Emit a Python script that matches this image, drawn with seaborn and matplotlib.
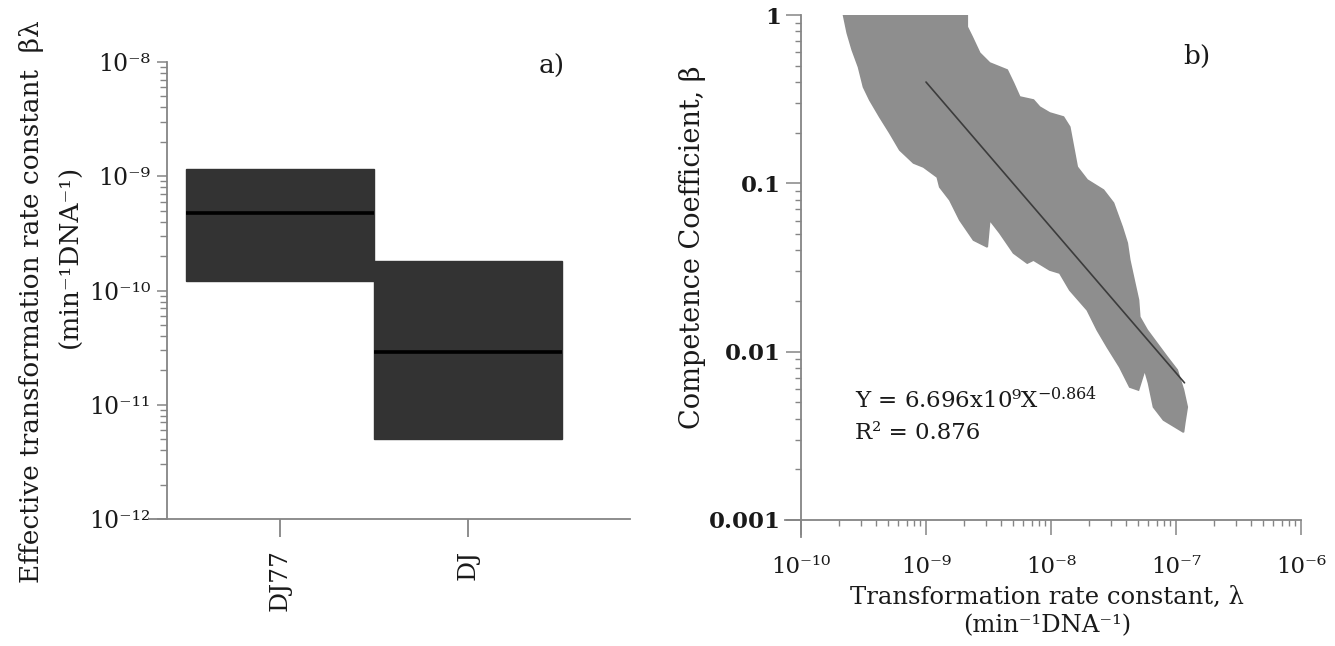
import numpy as np
import pandas as pd
import matplotlib
matplotlib.use("Agg")
import matplotlib.pyplot as plt
import seaborn as sns
from matplotlib.ticker import FixedLocator, NullFormatter, FuncFormatter

# ---- panel a: effective transformation rate constant per strain ----
strains = ["DJ77", "DJ"]
rate_low = [1.2e-10, 5.0e-12]
rate_median = [4.8e-10, 2.9e-11]
rate_high = [1.15e-9, 1.8e-10]

# ---- panel b: outline of the (lambda, beta) parameter cloud, log10 units ----
cloud_log_lambda = [
    -9.66, -8.67, -8.67, -8.63, -8.57, -8.49, -8.35, -8.30, -8.25, -8.14, -8.09,
    -8.01, -7.90, -7.85, -7.82, -7.79, -7.71, -7.58, -7.50, -7.43, -7.39, -7.37,
    -7.33, -7.30, -7.29, -7.23, -7.07, -6.99, -6.94, -6.91, -6.93, -6.94,
    -7.10, -7.18, -7.22, -7.25, -7.30, -7.37, -7.45, -7.55, -7.63, -7.71, -7.85,
    -7.93, -8.01, -8.14, -8.19, -8.30, -8.41, -8.49, -8.51, -8.62, -8.73, -8.81,
    -8.89, -8.91, -9.02, -9.10, -9.21, -9.29, -9.37, -9.45, -9.50, -9.54, -9.59,
    -9.63, -9.66,
]
cloud_log_beta = [
    0.0, 0.0, -0.071, -0.131, -0.226, -0.285, -0.327, -0.404, -0.487, -0.505, -0.547,
    -0.582, -0.606, -0.665, -0.784, -0.903, -0.980, -1.040, -1.117, -1.260, -1.355, -1.456,
    -1.592, -1.693, -1.794, -1.872, -2.032, -2.109, -2.228, -2.329, -2.424, -2.478,
    -2.406, -2.329, -2.187, -2.109, -2.228, -2.210, -2.092, -1.973, -1.872, -1.753, -1.634,
    -1.533, -1.515, -1.456, -1.474, -1.414, -1.295, -1.218, -1.378, -1.337, -1.218, -1.099,
    -1.022, -0.963, -0.903, -0.879, -0.802, -0.701, -0.606, -0.505, -0.428, -0.309, -0.208,
    -0.107, 0.0,
]

# power-law fit  Y = a * X^b
fit_coef = 6.696e-9
fit_exp = -0.864
fit_r2 = 0.876
fit_lambda = [1.0e-9, 1.17e-7]

x_ticks_b = [1e-10, 1e-9, 1e-8, 1e-7, 1e-6]
y_ticks_b = [0.001, 0.01, 0.1, 1]
y_ticklabels_b = ["0.001", "0.01", "0.1", "1"]

# ---- style ----
sns.set_style("ticks")
plt.rcParams["font.family"] = ["DejaVu Serif", "DejaVu Sans"]
plt.rcParams["mathtext.fontset"] = "dejavuserif"

W, H = 1335, 646
spine_col = "#858585"
text_col = "#1a1a1a"
box_col = "#333333"
cloud_col = "#8e8e8e"

SUP = str.maketrans("-0123456789", "\u207b\u2070\u00b9\u00b2\u00b3\u2074\u2075\u2076\u2077\u2078\u2079")


def pow10_label(v, pos=None):
    return "10" + str(int(round(np.log10(v)))).translate(SUP)


fig = plt.figure(figsize=(W / 100, H / 100), dpi=100)


def fig_rect(x0, y0, x1, y1):
    return [x0 / W, 1 - y1 / H, (x1 - x0) / W, (y1 - y0) / H]


def minor_decades(lo, hi):
    return [m * 10.0 ** e for e in range(lo, hi) for m in range(2, 10)]


# ================= panel a =================
ax1 = fig.add_axes(fig_rect(149, 62, 630, 519))
rows = []
for s, lo, md, hi in zip(strains, rate_low, rate_median, rate_high):
    for v in (lo, lo, md, hi, hi):
        rows.append((s, v))
df = pd.DataFrame(rows, columns=["strain", "rate"])

sns.boxplot(
    data=df, x="strain", y="rate", order=strains, log_scale=True,
    width=1.0, gap=0, color=box_col, saturation=1, linecolor=box_col,
    linewidth=1, whis=0, showcaps=False, fliersize=0,
    medianprops=dict(color="black", linewidth=2.6),
    whiskerprops=dict(linewidth=0), ax=ax1,
)
ax1.set_xlim(-0.697, 1.862)
ax1.set_ylim(1e-12, 1e-8)
ax1.set_xlabel("")
ax1.set_ylabel("")
for side in ("top", "right"):
    ax1.spines[side].set_visible(False)
ax1.spines["left"].set_position(("data", -0.601))
for side in ("left", "bottom"):
    ax1.spines[side].set_color(spine_col)
    ax1.spines[side].set_linewidth(1.3)

ax1.yaxis.set_major_locator(FixedLocator([1e-12, 1e-11, 1e-10, 1e-9, 1e-8]))
ax1.yaxis.set_minor_locator(FixedLocator(minor_decades(-12, -8)))
ax1.yaxis.set_major_formatter(FuncFormatter(pow10_label))
ax1.yaxis.set_minor_formatter(NullFormatter())
ax1.tick_params(axis="y", which="major", length=7, width=1.1, color=spine_col,
                labelsize=17, labelcolor=text_col, pad=5)
ax1.tick_params(axis="y", which="minor", length=5, width=1.0, color=spine_col)
ax1.tick_params(axis="x", which="major", length=13, width=1.3, color=spine_col,
                labelsize=18, labelcolor=text_col, pad=9, labelrotation=90)

ax1.text(-0.245, 0.475, "Effective transformation rate constant  \u03b2\u03bb",
         transform=ax1.transAxes, rotation=90, ha="center", va="center",
         fontsize=19, color=text_col)
ax1.text(-0.163, 0.575, "(min\u207b\u00b9DNA\u207b\u00b9)",
         transform=ax1.transAxes, rotation=90, ha="center", va="center",
         fontsize=19, color=text_col)
fig.text(552 / W, 1 - 66 / H, "a)", ha="center", va="center", fontsize=19, color=text_col)

# ================= panel b =================
ax2 = fig.add_axes(fig_rect(785, 15, 1301, 537))
ax2.set_xscale("log")
ax2.set_yscale("log")
ax2.fill(10.0 ** np.array(cloud_log_lambda), 10.0 ** np.array(cloud_log_beta),
         facecolor=cloud_col, edgecolor=cloud_col, linewidth=1.2, zorder=2)

fit_y = [fit_coef * x ** fit_exp for x in fit_lambda]
sns.lineplot(x=fit_lambda, y=fit_y, color="#3c3c3c", linewidth=1.2, ax=ax2, zorder=3)

ax2.set_xlim(10 ** -10.128, 1e-6)
ax2.set_ylim(10 ** -3.101, 1)
for side in ("top", "right"):
    ax2.spines[side].set_visible(False)
ax2.spines["left"].set_position(("data", 1e-10))
ax2.spines["bottom"].set_position(("data", 1e-3))
for side in ("left", "bottom"):
    ax2.spines[side].set_color(spine_col)
    ax2.spines[side].set_linewidth(1.3)

ax2.xaxis.set_major_locator(FixedLocator(x_ticks_b))
ax2.xaxis.set_minor_locator(FixedLocator(minor_decades(-10, -6)))
ax2.xaxis.set_major_formatter(FuncFormatter(pow10_label))
ax2.xaxis.set_minor_formatter(NullFormatter())
ax2.yaxis.set_major_locator(FixedLocator(y_ticks_b))
ax2.yaxis.set_minor_locator(FixedLocator(minor_decades(-3, 0)))
ax2.yaxis.set_major_formatter(FuncFormatter(
    lambda v, p: y_ticklabels_b[int(np.argmin([abs(np.log10(t / v)) for t in y_ticks_b]))]))
ax2.yaxis.set_minor_formatter(NullFormatter())
ax2.tick_params(axis="both", which="major", length=11, width=1.1, color=spine_col,
                labelsize=16.5, labelcolor=text_col)
ax2.tick_params(axis="both", which="minor", length=4.5, width=1.0, color=spine_col)
ax2.tick_params(axis="x", which="major", pad=15)
for lab in ax2.get_yticklabels():
    lab.set_fontweight("bold")

ax2.set_ylabel("Competence Coefficient, \u03b2", fontsize=19.5, color=text_col)
ax2.yaxis.label.set_va("center")
ax2.yaxis.set_label_coords((692 - 785) / 516, (537 - 247) / 522)
ax2.set_xlabel("Transformation rate constant, \u03bb\n(min\u207b\u00b9DNA\u207b\u00b9)",
               fontsize=17.5, color=text_col, linespacing=1.3)
ax2.xaxis.label.set_va("center")
ax2.xaxis.set_label_coords((1047 - 785) / 516, (537 - 612) / 522)

ax2.text((855 - 785) / 516, (537 - 400) / 522,
         "Y = 6.696x10\u2079X$^{-0.864}$",
         transform=ax2.transAxes, ha="left", va="center", fontsize=16.5, color=text_col)
ax2.text((855 - 785) / 516, (537 - 433) / 522, f"R\u00b2 = {fit_r2}",
         transform=ax2.transAxes, ha="left", va="center", fontsize=16.5, color=text_col)
fig.text(1197 / W, 1 - 56 / H, "b)", ha="center", va="center", fontsize=19, color=text_col)

fig.savefig("out.png", dpi=100)
